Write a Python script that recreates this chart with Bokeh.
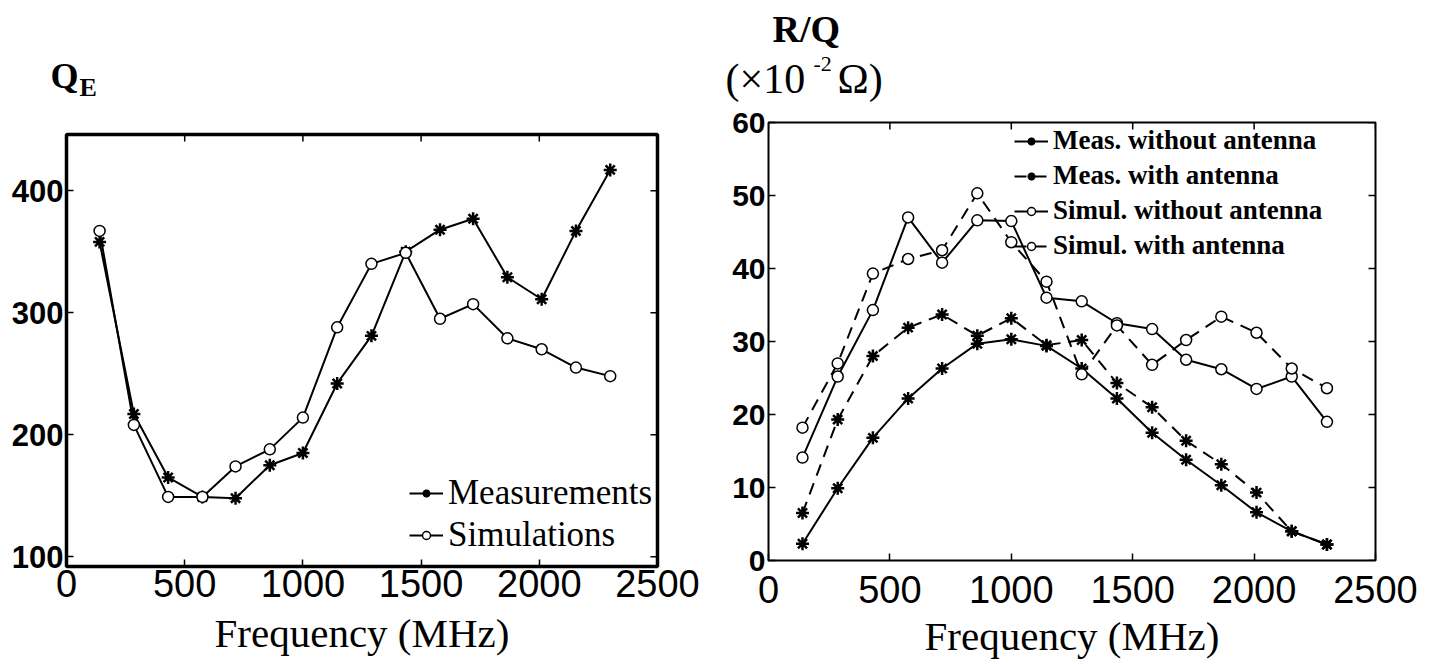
import math
from bokeh.plotting import figure
from bokeh.layouts import row, column
from bokeh.models import Range1d, FixedTicker, Legend, LegendItem, Label
from bokeh.embed import file_html
from bokeh.resources import INLINE

# ---------------- data ----------------
freq = [140, 285, 430, 575, 715, 860, 1000, 1145, 1290, 1435, 1580, 1720, 1865, 2010, 2155, 2300]

qe_meas = [358, 217, 165, 149, 148, 175, 185, 242, 281, 350, 368, 377, 329, 311, 367, 417]
qe_sim = [367, 208, 149, 149, 174, 188, 214, 288, 340, 349, 295, 307, 279, 270, 255, 248]

rq_meas_wo = [2.3, 9.9, 16.8, 22.2, 26.3, 29.7, 30.3, 29.4, 26.3, 22.2, 17.5, 13.8, 10.3, 6.6, 4.0, 2.2]
rq_meas_w = [6.5, 19.3, 28.0, 31.9, 33.7, 30.8, 33.2, 29.5, 30.2, 24.3, 21.0, 16.4, 13.2, 9.3, 4.0, 2.2]
rq_sim_wo = [14.1, 25.2, 34.3, 47.0, 40.8, 46.6, 46.5, 36.0, 35.5, 32.5, 31.7, 27.5, 26.2, 23.5, 25.2, 19.0]
rq_sim_w = [18.2, 27.0, 39.3, 41.3, 42.5, 50.3, 43.6, 38.2, 25.5, 32.2, 26.8, 30.2, 33.4, 31.2, 26.3, 23.6]

x_ticks = [0, 500, 1000, 1500, 2000, 2500]
qe_ticks = [100, 200, 300, 400]
rq_ticks = [0, 10, 20, 30, 40, 50, 60]

SERIF = "Liberation Serif"
SANS = "Liberation Sans"


def make_fig(fw, fh, bl, br, bt, bb, x0, x1, y0, y1, yt, outline_w,
             ytick_size, tick_standoff, label_standoff):
    p = figure(frame_width=fw, frame_height=fh, x_range=Range1d(x0, x1),
               y_range=Range1d(y0, y1), output_backend="svg", toolbar_location=None,
               min_border_left=bl, min_border_right=br,
               min_border_top=bt, min_border_bottom=bb)
    p.xgrid.visible = False
    p.ygrid.visible = False
    p.outline_line_color = "black"
    p.outline_line_width = outline_w
    p.xaxis.ticker = FixedTicker(ticks=x_ticks)
    p.yaxis.ticker = FixedTicker(ticks=yt)
    for ax in (p.xaxis[0], p.yaxis[0]):
        ax.axis_line_color = None
        ax.major_tick_in = 7
        ax.major_tick_out = 0
        ax.major_tick_line_width = 1.5
        ax.minor_tick_line_color = None
        ax.major_label_text_font = SANS
        ax.major_label_text_color = "black"
    p.xaxis.major_label_text_font_size = "38px"
    p.xaxis.major_label_standoff = tick_standoff
    p.yaxis.major_label_text_font_size = ytick_size
    p.yaxis.major_label_text_font_style = "bold"
    p.yaxis.major_label_standoff = 3
    p.xaxis.axis_label = "Frequency (MHz)"
    p.xaxis.axis_label_text_font = SERIF
    p.xaxis.axis_label_text_font_size = "41px"
    p.xaxis.axis_label_text_font_style = "normal"
    p.xaxis.axis_label_text_color = "black"
    p.xaxis.axis_label_standoff = label_standoff
    # inward box ticks on the top and right edges (half of each dash is clipped)
    p.scatter(x_ticks, [y1] * len(x_ticks), marker="dash", size=14, angle=math.pi / 2,
              line_color="black", line_width=1.5)
    p.scatter([x1] * len(yt), yt, marker="dash", size=14,
              line_color="black", line_width=1.5)
    return p


def label_fig(w, h):
    f = figure(frame_width=w, frame_height=h, x_range=Range1d(0, w), y_range=Range1d(0, h),
               x_axis_type=None, y_axis_type=None, output_backend="svg",
               toolbar_location=None, min_border=0)
    f.outline_line_color = None
    return f


def txt(f, x, y, s, size, bold=False):
    f.add_layout(Label(x=x, y=y, text=s, text_font=SERIF, text_font_size=size,
                       text_font_style="bold" if bold else "normal",
                       text_baseline="middle", text_align="left", text_color="black"))


# ---------------- left : Q_E ----------------
LW, LH = 708, 110
lf1 = label_fig(LW, LH)
txt(lf1, 50, 35, "Q", "36px", True)
txt(lf1, 79, 23, "E", "26px", True)

p1 = make_fig(591, 432, 66, 51, 24, 83, 0, 2500, 92, 446, qe_ticks, 3.5, "31px", 3, 10)

l1 = p1.line(freq, qe_meas, line_color="black", line_width=2)
m1 = p1.scatter(freq, qe_meas, marker="asterisk", size=13, line_color="black", line_width=2.5)
l2 = p1.line(freq, qe_sim, line_color="black", line_width=2)
m2 = p1.scatter(freq, qe_sim, marker="circle", size=11, line_color="black",
                fill_color="white", line_width=1.5)

leg1 = Legend(items=[LegendItem(label="Measurements", renderers=[l1, m1]),
                     LegendItem(label="Simulations", renderers=[l2, m2])],
              location=(343, 11))
leg1.border_line_color = None
leg1.background_fill_alpha = 0
leg1.label_text_font = SERIF
leg1.label_text_font_size = "35px"
leg1.label_text_color = "black"
leg1.glyph_width = 34
leg1.spacing = 2
leg1.padding = 2
leg1.margin = 0
p1.add_layout(leg1)

# ---------------- right : R/Q ----------------
RW, RH = 717, 105
lf2 = label_fig(RW, RH)
txt(lf2, 64, 77, "R/Q", "38px", True)
txt(lf2, 17, 27, "(\u00d710", "42px")
txt(lf2, 105, 42, "-2", "22px")
txt(lf2, 129, 27, "\u03a9)", "42px")

p2 = make_fig(607, 438, 60, 50, 17, 89, 0, 2500, 0, 60, rq_ticks, 2, "30px", 15, 7)

a1 = p2.line(freq, rq_meas_wo, line_color="black", line_width=2)
b1 = p2.scatter(freq, rq_meas_wo, marker="asterisk", size=13, line_color="black", line_width=2.5)
a2 = p2.line(freq, rq_meas_w, line_color="black", line_width=2, line_dash="12 8")
b2 = p2.scatter(freq, rq_meas_w, marker="asterisk", size=13, line_color="black", line_width=2.5)
a3 = p2.line(freq, rq_sim_wo, line_color="black", line_width=2)
b3 = p2.scatter(freq, rq_sim_wo, marker="circle", size=11, line_color="black",
                fill_color="white", line_width=1.5)
a4 = p2.line(freq, rq_sim_w, line_color="black", line_width=2, line_dash="12 8")
b4 = p2.scatter(freq, rq_sim_w, marker="circle", size=11, line_color="black",
                fill_color="white", line_width=1.5)

leg2 = Legend(items=[LegendItem(label="Meas. without antenna", renderers=[a1, b1]),
                     LegendItem(label="Meas. with antenna", renderers=[a2, b2]),
                     LegendItem(label="Simul. without antenna", renderers=[a3, b3]),
                     LegendItem(label="Simul. with antenna", renderers=[a4, b4])],
              location=(246, 299))
leg2.border_line_color = None
leg2.background_fill_alpha = 0
leg2.label_text_font = SERIF
leg2.label_text_font_size = "27px"
leg2.label_text_font_style = "bold"
leg2.label_text_color = "black"
leg2.glyph_width = 34
leg2.spacing = 4
leg2.padding = 3
leg2.margin = 0
p2.add_layout(leg2)

layout = row(column(row(lf1), row(p1)), column(row(lf2), row(p2)))
open("out.html", "w").write(file_html(layout, INLINE))
